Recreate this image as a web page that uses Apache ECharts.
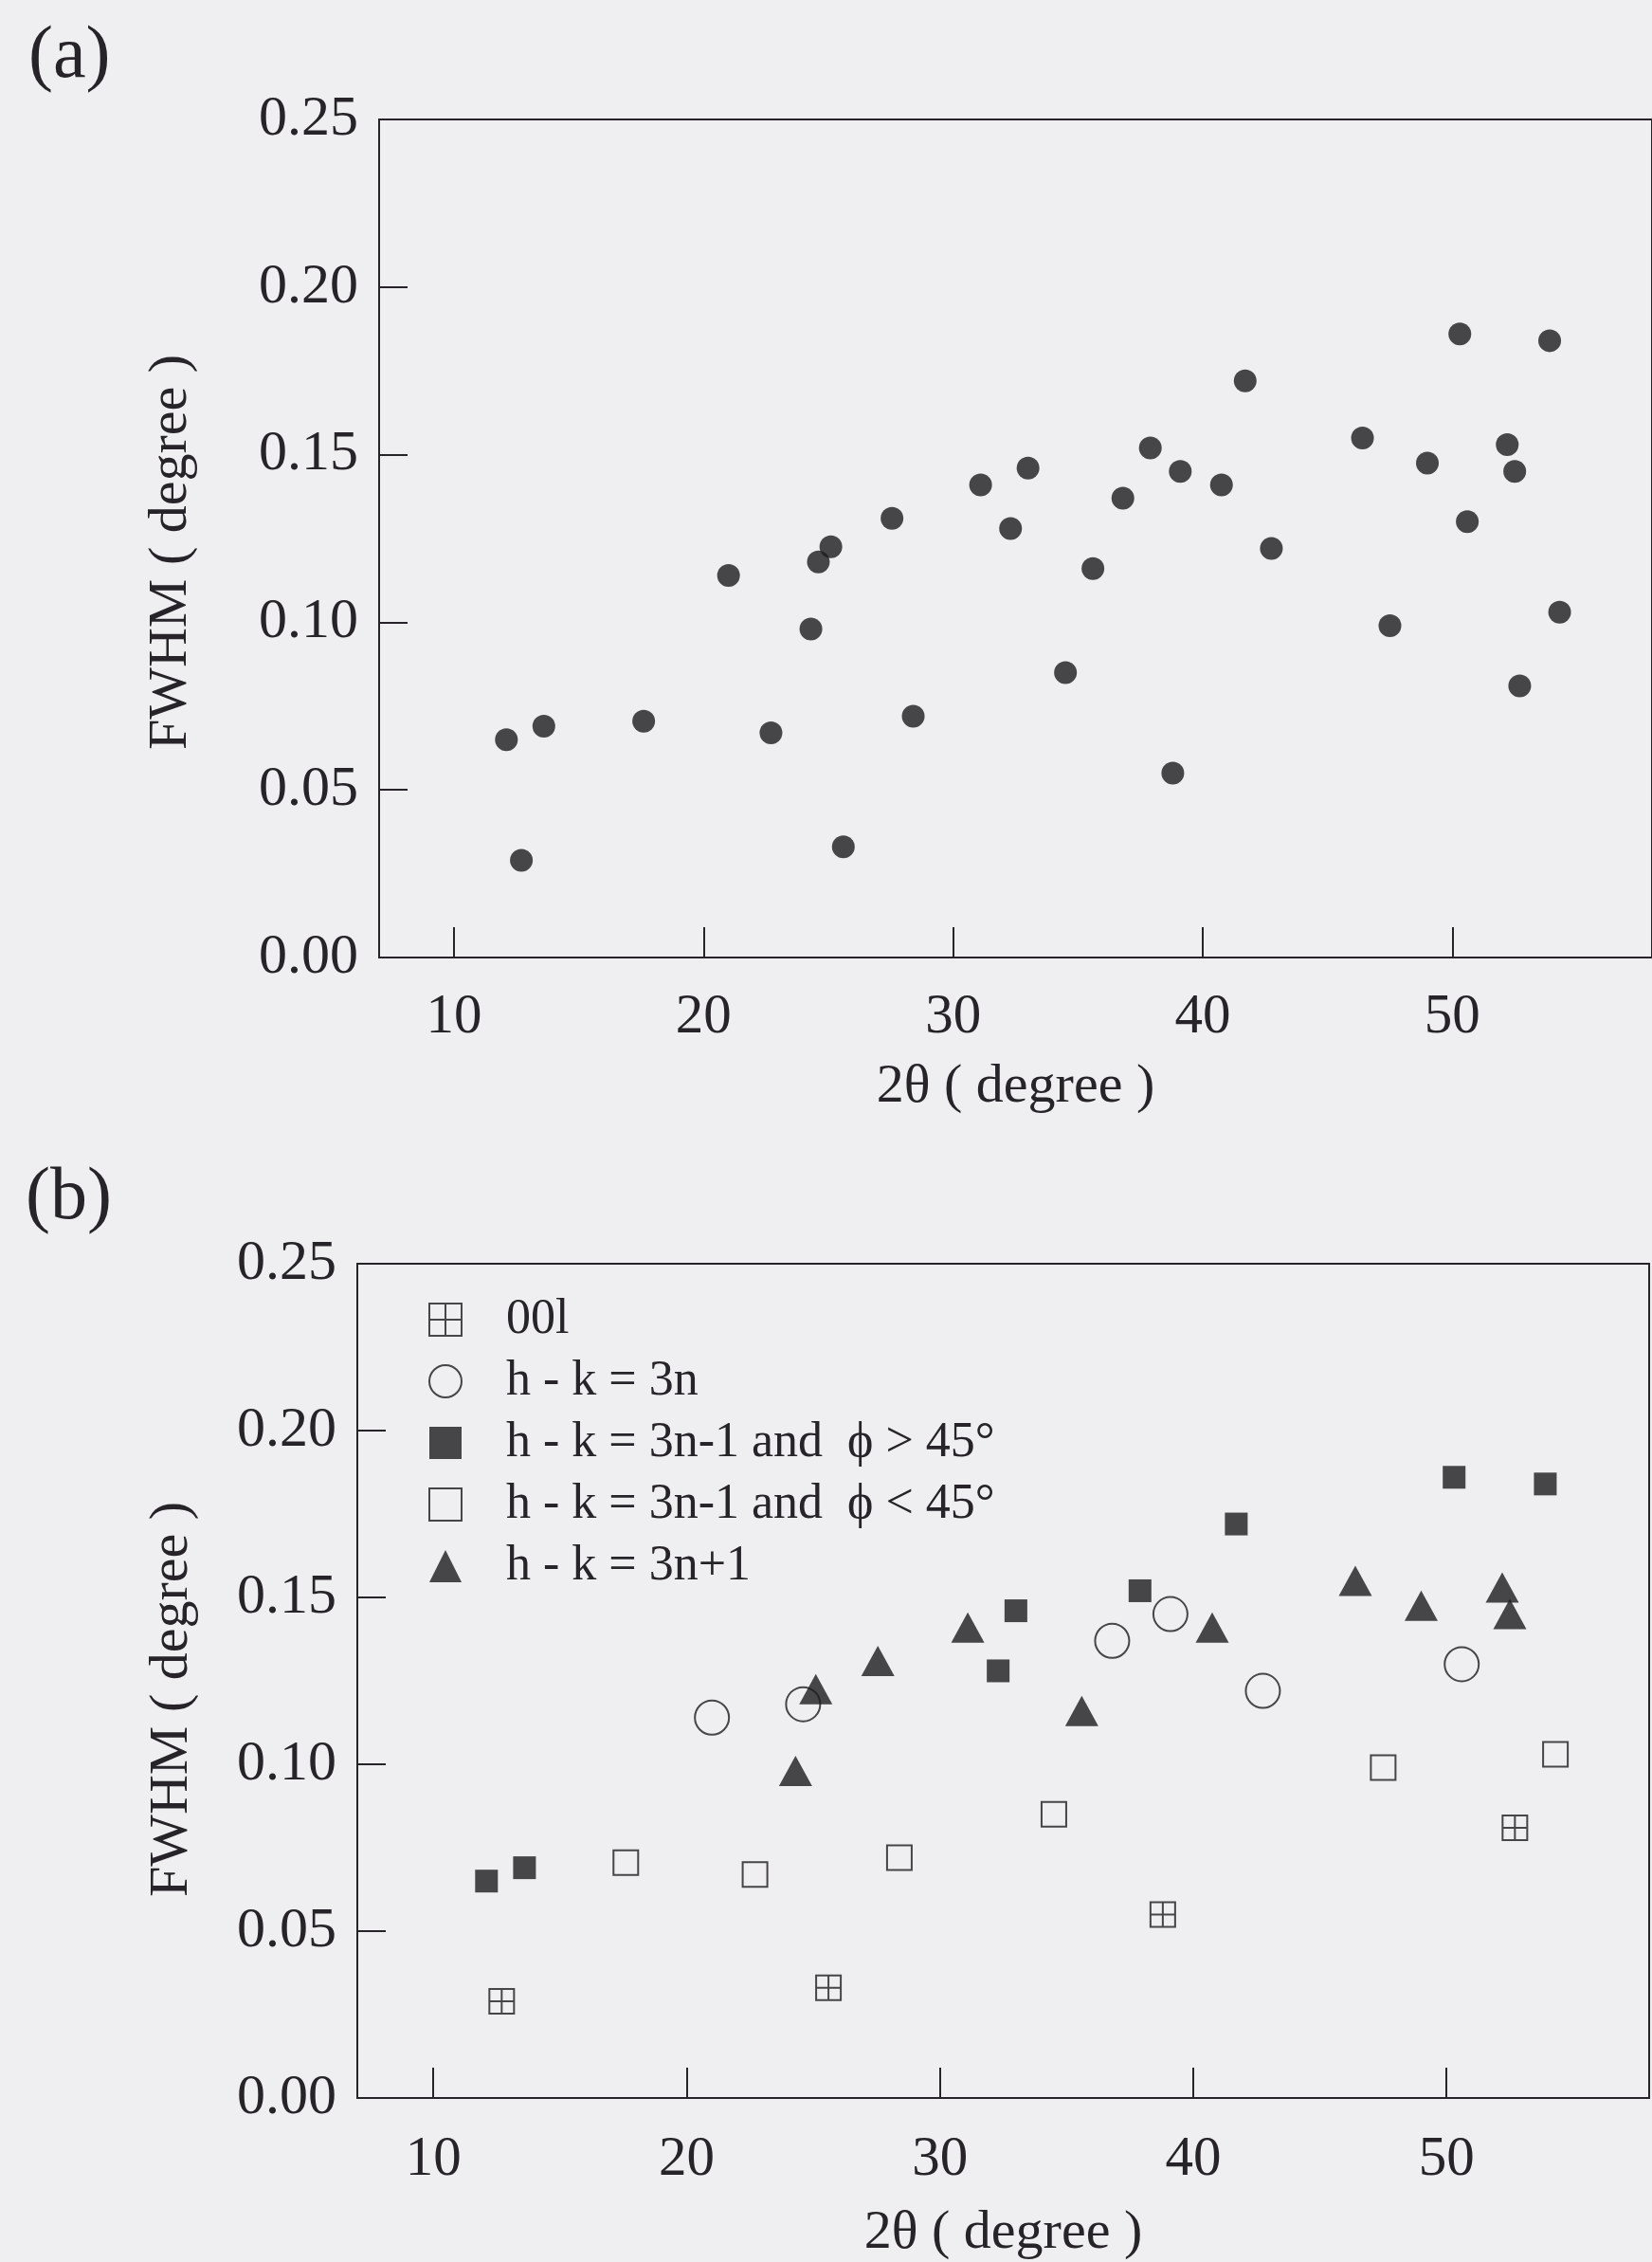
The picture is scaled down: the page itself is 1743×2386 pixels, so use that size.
<!DOCTYPE html>
<html>
<head>
<meta charset="utf-8">
<script src="https://cdn.jsdelivr.net/npm/echarts@6/dist/echarts.min.js"></script>
<style>
  html, body { margin: 0; padding: 0; background: #efeef0; }
  #chart { width: 1743px; height: 2386px; }
</style>
</head>
<body>
<div id="chart"></div>
<script>
// Peak widths (FWHM, degree) versus diffraction angle 2θ (degree), grouped by reflection class
const seriesNames = ['00l', 'h - k = 3n', 'h - k = 3n-1 and  \u03D5 > 45\u00B0', 'h - k = 3n-1 and  \u03D5 < 45\u00B0', 'h - k = 3n+1'];

const pts00l = [[12.7, 0.029], [25.6, 0.033], [38.8, 0.055], [52.7, 0.081]];
const ptsHk3n = [[21.0, 0.114], [24.6, 0.118], [36.8, 0.137], [39.1, 0.145], [42.75, 0.122], [50.6, 0.130]];
const ptsHk3nM1Above = [[12.1, 0.065], [13.6, 0.069], [32.3, 0.128], [33.0, 0.146], [37.9, 0.152], [41.7, 0.172], [50.3, 0.186], [53.9, 0.184]];
const ptsHk3nM1Below = [[17.6, 0.0705], [22.7, 0.067], [28.4, 0.072], [34.5, 0.085], [47.5, 0.099], [54.3, 0.103]];
const ptsHk3nP1 = [[24.3, 0.098], [25.1, 0.1225], [27.55, 0.131], [31.1, 0.141], [35.6, 0.116], [40.75, 0.141], [46.4, 0.155], [49.0, 0.1475], [52.2, 0.153], [52.5, 0.145]];

const xTicks = [10, 20, 30, 40, 50];
const yTicks = [0, 0.05, 0.10, 0.15, 0.20, 0.25];
const xRange = [7, 58];
const yRange = [0, 0.25];

// panel (a): every reflection with the same marker
const ptsAll = [].concat(pts00l, ptsHk3n, ptsHk3nM1Above, ptsHk3nM1Below, ptsHk3nP1);

const ink = '#262428';
const markInk = '#1b1a1d';
const serif = '"Liberation Serif", "DejaVu Serif", serif';
const gridIcon = 'path://M0,0H20V20H0Z M10,0V20 M0,10H20';

function xAxisFor(gridIndex, labelMargin, nameGap) {
  return {
    gridIndex: gridIndex, type: 'value', min: xRange[0], max: xRange[1],
    axisLine: { onZero: false, lineStyle: { color: ink, width: 2 } },
    axisTick: { inside: true, length: 32, customValues: xTicks, lineStyle: { color: ink, width: 2 } },
    axisLabel: { customValues: xTicks, margin: labelMargin, color: ink, fontFamily: serif, fontSize: 59 },
    splitLine: { show: false },
    name: '2\u03B8 ( degree )', nameLocation: 'middle', nameGap: nameGap,
    nameTextStyle: { color: ink, fontFamily: serif, fontSize: 58 }
  };
}
function yAxisFor(gridIndex, nameGap, shift) {
  return {
    gridIndex: gridIndex, type: 'value', min: yRange[0], max: yRange[1], interval: 0.05,
    axisLine: { lineStyle: { color: ink, width: 2 } },
    axisTick: { inside: true, length: 30, customValues: yTicks, lineStyle: { color: ink, width: 2 } },
    axisLabel: { customValues: yTicks, margin: 22, color: ink, fontFamily: serif, fontSize: 60,
      formatter: v => v.toFixed(2) },
    splitLine: { show: false },
    name: 'FWHM ( degree )', nameLocation: 'middle', nameGap: nameGap,
    nameTextStyle: { color: ink, fontFamily: serif, fontSize: 58, padding: [0, shift, 0, 0] }
  };
}

const hollow = { color: 'transparent', borderColor: markInk, borderWidth: 2 };
const solid = { color: markInk };

const option = {
  backgroundColor: '#efeef0',
  animation: false,
  grid: [
    { left: 400, top: 126, width: 1350, height: 884, show: true, borderColor: ink, borderWidth: 2, backgroundColor: 'transparent' },
    { left: 377, top: 1333, width: 1363, height: 885, show: true, borderColor: ink, borderWidth: 2, backgroundColor: 'transparent' }
  ],
  xAxis: [xAxisFor(0, 34, 108), xAxisFor(1, 36, 114)],
  yAxis: [yAxisFor(0, 190, 29), yAxisFor(1, 166, 39)],
  legend: {
    orient: 'vertical', left: 447, top: 1361, itemWidth: 34, itemHeight: 34, itemGap: 13,
    selectedMode: false,
    textStyle: { color: ink, fontFamily: serif, fontSize: 52, lineHeight: 34, padding: [0, 0, 0, 42] },
    data: [
      { name: seriesNames[0], icon: gridIcon, itemStyle: hollow },
      { name: seriesNames[1], icon: 'circle', itemStyle: hollow },
      { name: seriesNames[2], icon: 'rect', itemStyle: solid },
      { name: seriesNames[3], icon: 'rect', itemStyle: hollow },
      { name: seriesNames[4], icon: 'triangle', itemStyle: solid }
    ]
  },
  graphic: [
    { type: 'text', left: 30, top: 22, style: { text: '(a)', font: '78px ' + serif, fill: ink } },
    { type: 'text', left: 27, top: 1226, style: { text: '(b)', font: '78px ' + serif, fill: ink } }
  ],
  series: [
    { name: 'all', type: 'scatter', xAxisIndex: 0, yAxisIndex: 0, data: ptsAll,
      symbol: 'circle', symbolSize: 24, itemStyle: solid },
    { name: seriesNames[0], type: 'scatter', xAxisIndex: 1, yAxisIndex: 1, data: pts00l,
      symbol: gridIcon, symbolSize: 26, itemStyle: hollow },
    { name: seriesNames[1], type: 'scatter', xAxisIndex: 1, yAxisIndex: 1, data: ptsHk3n,
      symbol: 'circle', symbolSize: 36, itemStyle: hollow },
    { name: seriesNames[2], type: 'scatter', xAxisIndex: 1, yAxisIndex: 1, data: ptsHk3nM1Above,
      symbol: 'rect', symbolSize: 24, itemStyle: solid },
    { name: seriesNames[3], type: 'scatter', xAxisIndex: 1, yAxisIndex: 1, data: ptsHk3nM1Below,
      symbol: 'rect', symbolSize: 26, itemStyle: hollow },
    { name: seriesNames[4], type: 'scatter', xAxisIndex: 1, yAxisIndex: 1, data: ptsHk3nP1,
      symbol: 'triangle', symbolSize: [35, 32], itemStyle: solid }
  ]
};

const chart = echarts.init(document.getElementById('chart'), null, { renderer: 'canvas' });
chart.setOption(option);
</script>
</body>
</html>
